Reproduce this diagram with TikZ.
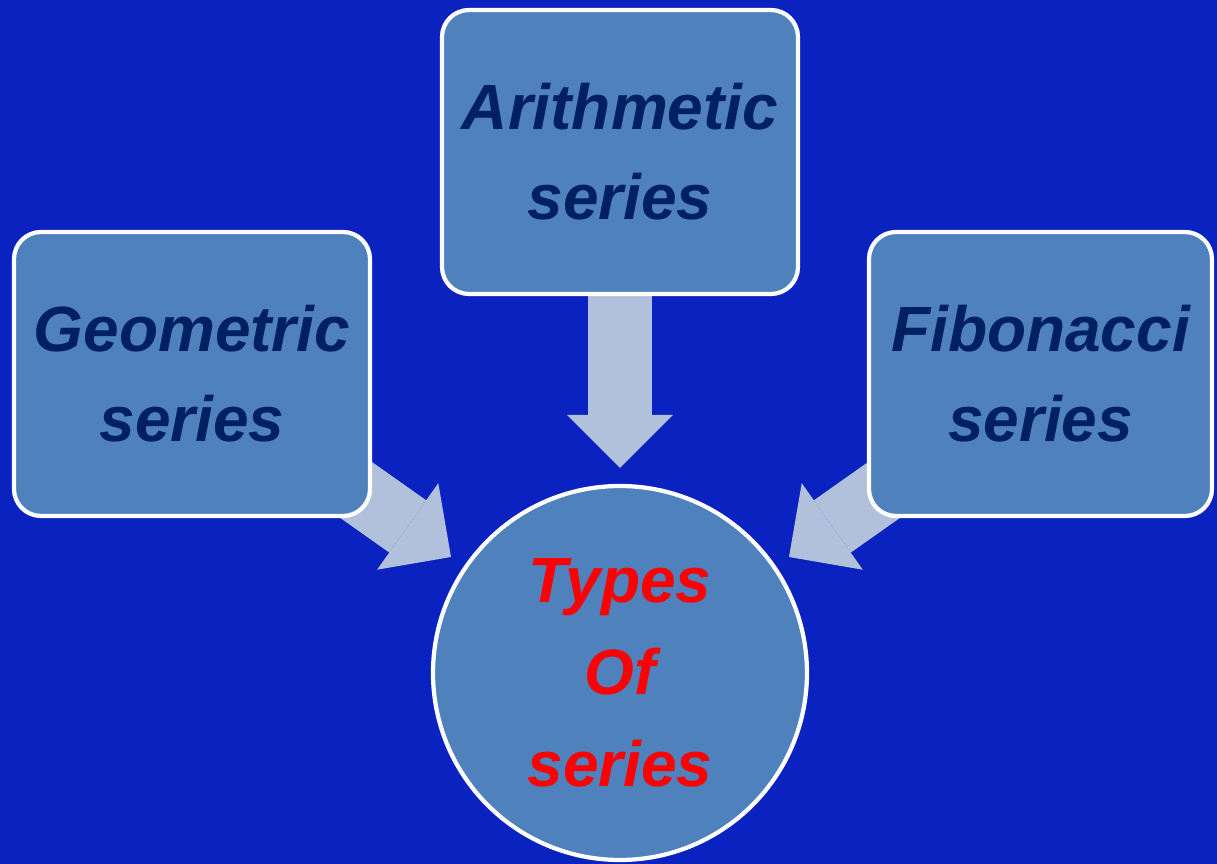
\documentclass[tikz,border=0pt]{standalone}
\usepackage{fontspec}
\setmainfont{Liberation Sans}
\usetikzlibrary{arrows.meta}
\definecolor{slideblue}{HTML}{0A22C0}
\definecolor{boxblue}{HTML}{4F81BD}
\definecolor{navytext}{HTML}{002060}
\definecolor{arrowgrey}{HTML}{B2C1DB}
\pgfdeclarelayer{back}
\pgfsetlayers{back,main}
\tikzset{
  seriesbox/.style={draw=white, line width=1.2pt, fill=boxblue, rounded corners=0.27cm,
    minimum width=3.56cm, minimum height=2.84cm, inner sep=0pt, align=center,
    text=navytext, font=\fontsize{18.2}{25.6}\selectfont\bfseries\itshape},
  typesball/.style={circle, draw=white, line width=1.2pt, fill=boxblue, minimum size=3.74cm,
    inner sep=0pt, align=center, text=red, font=\fontsize{18.2}{26.2}\selectfont\bfseries\itshape},
  blockarrow/.style={draw=arrowgrey, line width=0.64cm,
    -{Triangle[length=0.53cm,width=1.06cm,line width=0pt]}}
}
\begin{document}
\begin{tikzpicture}
\useasboundingbox (0,0) rectangle (12.17,-8.64);

\node[seriesbox] (arith) at (6.20,-1.52) {Arithmetic\\series};
\node[seriesbox] (geo) at (1.92,-3.74) {Geometric\\series};
\node[seriesbox,minimum width=3.43cm] (fib) at (10.405,-3.74) {Fibonacci\\series};
\node[typesball] (types) at (6.20,-6.73) {Types\\Of\\series};

\coordinate (tipA) at (6.20,-4.68);
\coordinate (tipG) at (4.51,-5.57);
\coordinate (tipF) at (7.89,-5.57);

\begin{pgfonlayer}{back}
\fill[slideblue] (0,0) rectangle (12.17,-8.64); %slide
\draw[blockarrow] (arith.center) -- (tipA);
\draw[blockarrow] (geo.center) -- (tipG);
\draw[blockarrow] ([xshift=0.08cm]fib.center) -- (tipF);
\end{pgfonlayer}

\end{tikzpicture}
\end{document}
